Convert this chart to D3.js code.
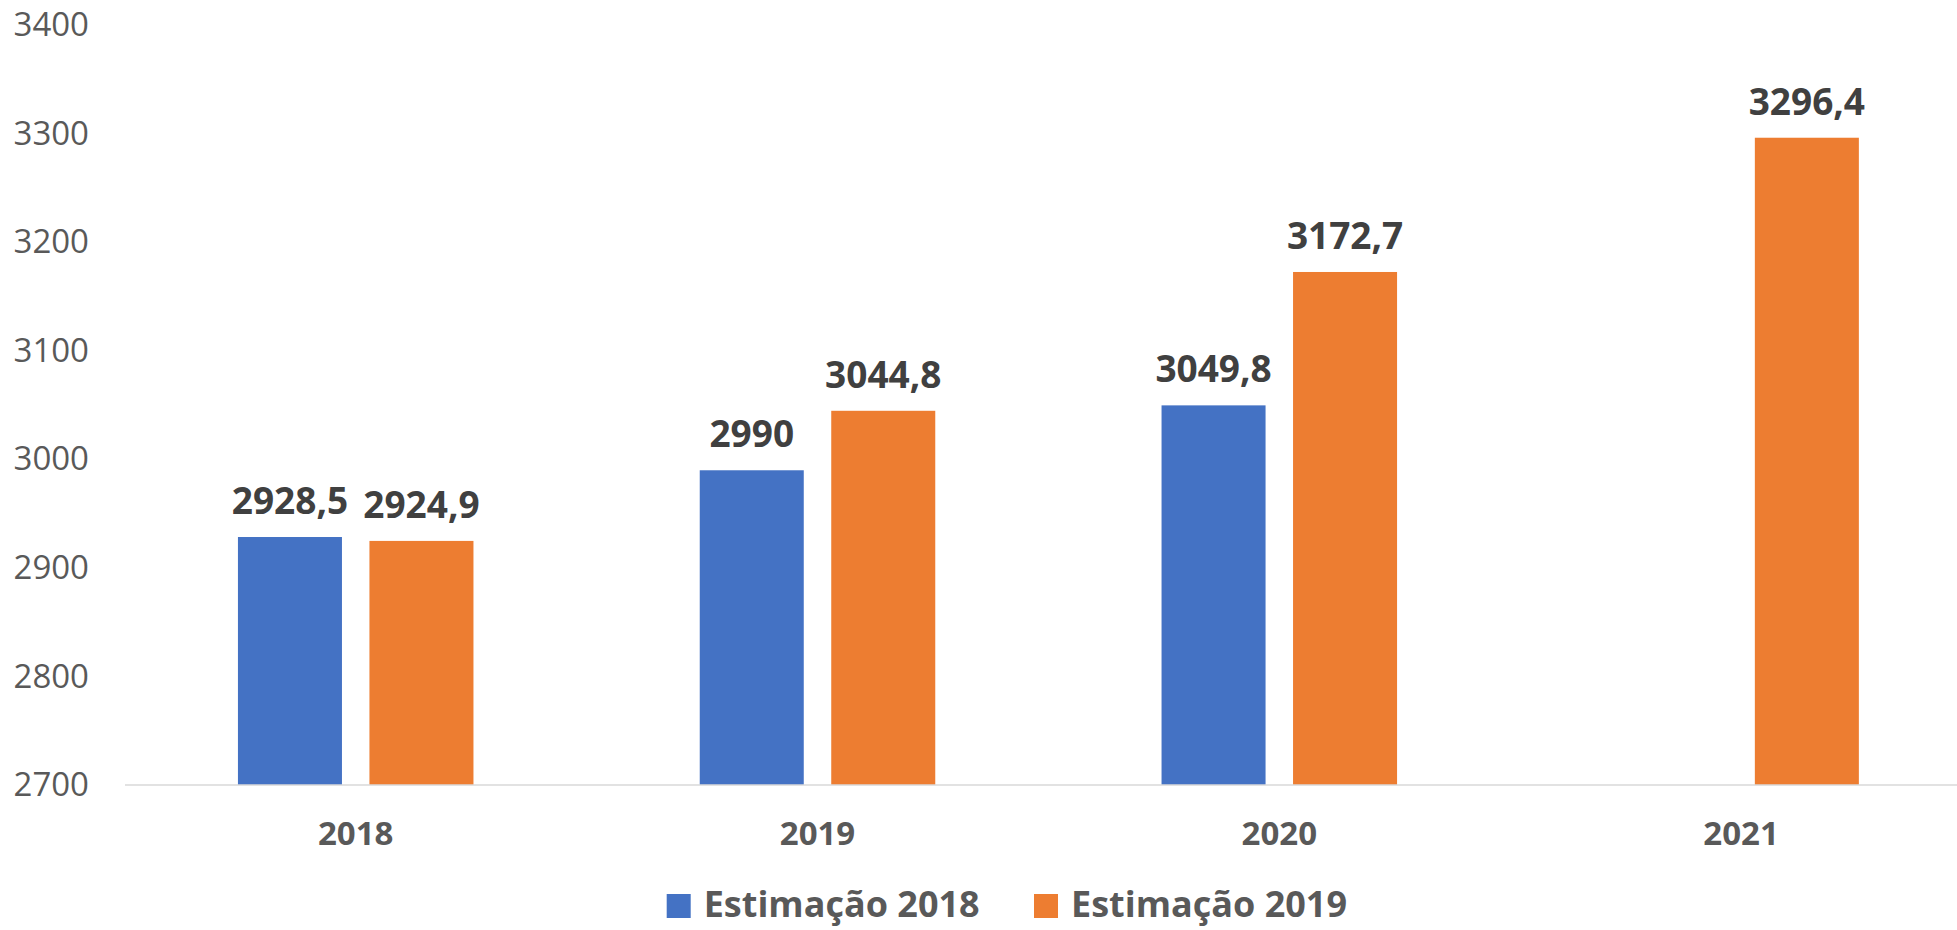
<!DOCTYPE html>
<html>
<head>
<meta charset="utf-8">
<script src="https://cdn.jsdelivr.net/npm/d3@7"></script>
<style>
  html, body { margin: 0; padding: 0; background: #ffffff; }
  svg { display: block; }
</style>
</head>
<body>
<svg id="chart" width="1957" height="930"></svg>
<script>
const categories = ["2018", "2019", "2020", "2021"];
const seriesNames = ["Estimação 2018", "Estimação 2019"];
const est2018 = [2928.5, 2990, 3049.8, null];
const est2019 = [2924.9, 3044.8, 3172.7, 3296.4];
const yTicks = [2700, 2800, 2900, 3000, 3100, 3200, 3300, 3400];
const colors = ["#4472C4", "#ED7D31"];

const seriesValues = [est2018, est2019];
const svg = d3.select("#chart");
const font = "'Open Sans', 'Noto Sans', sans-serif";

const y = d3.scaleLinear().domain([2700, 3400]).range([785, 25.3]);
const x0 = d3.scaleBand().domain(categories).range([124.8, 1972]).paddingInner(0.49).paddingOuter(0.245);
const x1 = d3.scaleBand().domain(seriesNames).range([0, x0.bandwidth()]).paddingInner(0.209);

// y axis labels
const yAxis = d3.axisLeft(y).tickValues(yTicks).tickSize(0).tickPadding(0).tickFormat(d3.format("d"));
const yg = svg.append("g").attr("transform", "translate(89,0)").call(yAxis);
yg.select(".domain").remove();
yg.selectAll("text")
  .attr("font-family", font).attr("font-size", 33).attr("fill", "#595959");

// bars
const data = [];
categories.forEach((c, i) => {
  seriesNames.forEach((s, j) => {
    const v = seriesValues[j][i];
    if (v !== null) data.push({ c, s, v, j });
  });
});

svg.append("g").selectAll("rect").data(data).join("rect")
  .attr("x", d => x0(d.c) + x1(d.s))
  .attr("y", d => y(d.v))
  .attr("width", x1.bandwidth())
  .attr("height", d => y(2700) - y(d.v))
  .attr("fill", d => colors[d.j]);

// x axis line + labels
const xAxis = d3.axisBottom(x0).tickSize(0).tickPadding(0);
const xg = svg.append("g").attr("transform", "translate(0,785)").call(xAxis);
xg.select(".domain").remove();
xg.selectAll("text")
  .attr("y", 60).attr("dy", null)
  .attr("font-family", font).attr("font-size", 33).attr("font-weight", "bold").attr("fill", "#595959");
svg.append("line")
  .attr("x1", 125).attr("x2", 1957).attr("y1", 785).attr("y2", 785)
  .attr("stroke", "#D9D9D9").attr("stroke-width", 1.5);

// data labels
const fmt = v => String(v).replace(".", ",");
svg.append("g").selectAll("text").data(data).join("text")
  .attr("x", d => x0(d.c) + x1(d.s) + x1.bandwidth() / 2)
  .attr("y", d => y(d.v) - 23)
  .attr("text-anchor", "middle")
  .attr("font-family", font).attr("font-size", 37).attr("font-weight", "bold").attr("fill", "#404040")
  .text(d => fmt(d.v));

// legend
const legendX = [666.7, 1034];
const lg = svg.append("g").selectAll("g").data(seriesNames).join("g")
  .attr("transform", (d, i) => `translate(${legendX[i]},894)`);
lg.append("rect").attr("width", 24).attr("height", 24).attr("fill", (d, i) => colors[i]);
lg.append("text").attr("x", 37).attr("y", 23)
  .attr("font-family", font).attr("font-size", 36).attr("font-weight", "bold").attr("fill", "#595959")
  .text(d => d);
</script>
</body>
</html>
